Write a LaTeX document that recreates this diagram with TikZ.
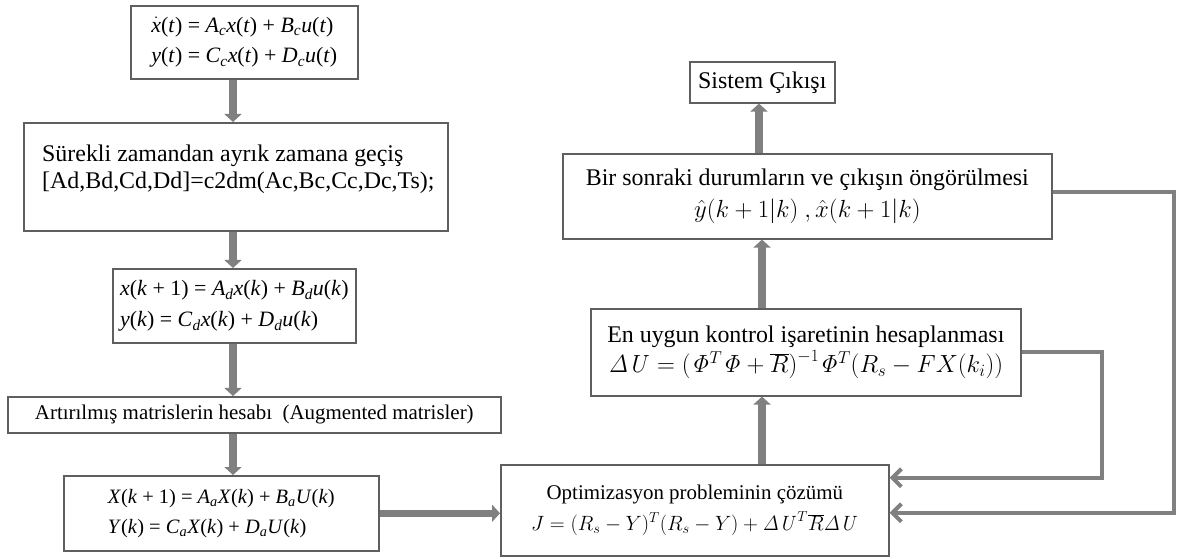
\documentclass[tikz,border=0pt]{standalone}
\usepackage[no-math]{fontspec}
\setmainfont{Liberation Serif}
\usetikzlibrary{arrows.meta}
\definecolor{arrowgray}{RGB}{128,128,128}
\definecolor{boxgray}{RGB}{95,95,95}
\newcommand{\mv}[1]{\textit{#1}}
\newcommand{\sbi}[1]{\textsubscript{\textit{#1}}}
\newcommand{\xdot}{$\dot{\mbox{\textit{x}}}$}
\begin{document}
\begin{tikzpicture}[x=1bp,y=-1bp,
  box/.style={draw=boxgray, line width=1.6bp, fill=white, anchor=north west, inner sep=2bp},
  flow/.style={draw=arrowgray, line width=7.5bp, -{Triangle[width=17bp,length=8bp]}},
  fb/.style={draw=arrowgray, line width=4bp, line join=miter, -{Straight Barb[width=18bp,length=9bp]}},
  bigtxt/.style={font=\fontsize{24}{31}\selectfont},
  midtxt/.style={font=\fontsize{24}{27}\selectfont},
  smalltxt/.style={font=\fontsize{21}{31}\selectfont},
  eqa/.style={font=\fontsize{22}{31}\selectfont},
  eqb/.style={font=\fontsize{22}{31}\selectfont},
  eqc/.style={font=\fontsize{20.5}{30}\selectfont}]
\useasboundingbox (0,0) rectangle (1178,559);
% left column
\node[box, minimum width=227bp, minimum height=73bp, eqa, align=left] (b1) at (130,5)
  {\xdot(\mv{t}) = \mv{A}\sbi{c}\mv{x}(\mv{t}) + \mv{B}\sbi{c}\mv{u}(\mv{t})\\
   \mv{y}(\mv{t}) = \mv{C}\sbi{c}\mv{x}(\mv{t}) + \mv{D}\sbi{c}\mv{u}(\mv{t})};
\node[box, minimum width=424bp, minimum height=108bp] (b2) at (23,122) {};
\node[midtxt, anchor=north west, align=left, inner sep=0pt] (t2) at ([xshift=19bp,yshift=-23bp]b2.north west)
  {Sürekli zamandan ayrık zamana geçiş\\
   {[}Ad,Bd,Cd,Dd{]}=c2dm(Ac,Bc,Cc,Dc,Ts);};
\node[box, minimum width=243bp, minimum height=74bp, eqb, align=left] (b3) at (112,268)
  {\mv{x}(\mv{k} + 1) = \mv{A}\sbi{d}\mv{x}(\mv{k}) + \mv{B}\sbi{d}\mv{u}(\mv{k})\\
   \mv{y}(\mv{k}) = \mv{C}\sbi{d}\mv{x}(\mv{k}) + \mv{D}\sbi{d}\mv{u}(\mv{k})};
\node[box, minimum width=493bp, minimum height=36bp, smalltxt] (b4) at (7,396)
  {Artırılmış matrislerin hesabı\ \ (Augmented matrisler)};
\node[box, minimum width=315bp, minimum height=75bp, eqc, align=left] (b5) at (63,475)
  {\mv{X}(\mv{k} + 1) = \mv{A}\sbi{a}\mv{X}(\mv{k}) + \mv{B}\sbi{a}\mv{U}(\mv{k})\\
   \mv{Y}(\mv{k}) = \mv{C}\sbi{a}\mv{X}(\mv{k}) + \mv{D}\sbi{a}\mv{U}(\mv{k})};
% right column
\node[box, minimum width=388bp, minimum height=91bp, smalltxt, align=center] (b6) at (500,464)
  {Optimizasyon probleminin çözümü\\
   {\fontsize{19.5}{31}\selectfont$J=(R_s-Y)^T(R_s-Y)+\mathit{\Delta U}^T\overline{R}\mathit{\Delta U}$}};
\node[box, minimum width=430bp, minimum height=87bp, bigtxt, align=center] (b7) at (590,308)
  {En uygun kontrol işaretinin hesaplanması\\
   $\mathit{\Delta U}=\bigl(\mathit{\Phi}^T\mathit{\Phi}+\overline{R}\bigr)^{-1}\mathit{\Phi}^T\bigl(R_s-FX(k_i)\bigr)$};
\node[box, minimum width=489bp, minimum height=85bp, bigtxt, align=center] (b8) at (562,153)
  {Bir sonraki durumların ve çıkışın öngörülmesi\\[2bp]
   $\hat{y}(k+1|k)\ ,\hat{x}(k+1|k)$};
\node[box, minimum width=145bp, minimum height=41bp, bigtxt] (b9) at (689,61)
  {Sistem Çıkışı};
% guide coordinates
\coordinate (ax) at (233,0);
\coordinate (bx) at (762,0);
\coordinate (cx) at (759,0);
% flow arrows
\draw[flow] (b1.south -| ax) -- (b2.north -| ax);
\draw[flow] (b2.south -| ax) -- (b3.north -| ax);
\draw[flow] (b3.south -| ax) -- (b4.north -| ax);
\draw[flow] (b4.south -| ax) -- (b5.north -| ax);
\draw[flow] (b5.east) -- (b6.west |- b5.east);
\draw[flow] (b6.north -| bx) -- (b7.south -| bx);
\draw[flow] (b7.north -| bx) -- (b8.south -| bx);
\draw[flow] (b8.north -| cx) -- (b9.south -| cx);
% feedback arrows
\coordinate (f1) at (1102,0);
\coordinate (f2) at (1174,0);
\draw[fb] (b7.east) -- (b7.east -| f1) -- ([yshift=32.5bp]b6.east -| f1) -- ([yshift=32.5bp]b6.east);
\draw[fb] ([yshift=4bp]b8.east) -- ([yshift=4bp]b8.east -| f2) -- ([yshift=-2.5bp]b6.east -| f2) -- ([yshift=-2.5bp]b6.east);
\end{tikzpicture}
\end{document}
